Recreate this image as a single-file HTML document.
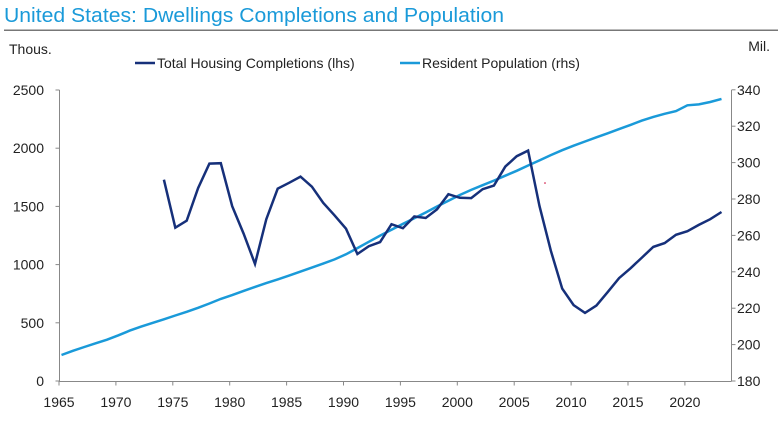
<!DOCTYPE html>
<html><head><meta charset="utf-8"><style>
body{margin:0;background:#fff;width:778px;height:423px;overflow:hidden;font-family:"Liberation Sans",Arial,sans-serif}
svg text{font-family:"Liberation Sans",Arial,sans-serif}
</style></head><body>
<svg id="c" width="778" height="423" xmlns="http://www.w3.org/2000/svg">
<text x="4" y="22" font-size="20" fill="#1a9ad9" textLength="500" lengthAdjust="spacingAndGlyphs">United States: Dwellings Completions and Population</text>
<rect x="4" y="29.5" width="774" height="1.5" fill="#777"/>
<text x="9" y="54" font-size="14" fill="#222">Thous.</text>
<text x="770" y="51" font-size="14" fill="#222" text-anchor="end">Mil.</text>
<line x1="135" y1="63" x2="155" y2="63" stroke="#16307a" stroke-width="2.5"/>
<text x="157" y="68" font-size="14" fill="#222">Total Housing Completions (lhs)</text>
<line x1="400" y1="63" x2="420" y2="63" stroke="#1a9ad9" stroke-width="2.5"/>
<text x="422" y="68" font-size="14" fill="#222">Resident Population (rhs)</text>
<g id="ax" stroke="#888" stroke-width="1" fill="none"></g>
<g id="lab" font-size="14" fill="#222"></g>
<polyline id="pop" fill="none" stroke="#1a9ad9" stroke-width="2.5"/>
<polyline id="hc" fill="none" stroke="#16307a" stroke-width="2.5"/>
<circle cx="545" cy="183" r="0.8" fill="#c03"/>
</svg>
<script>
var NS="http://www.w3.org/2000/svg";
function el(p,t,a,txt){var e=document.createElementNS(NS,t);for(var k in a)e.setAttribute(k,a[k]);if(txt!==undefined)e.textContent=txt;p.appendChild(e);return e;}
var ax=document.getElementById('ax'),lab=document.getElementById('lab');
var L=59.5,R=731.5,B=381.5,T=90;
el(ax,'line',{x1:L,y1:T,x2:L,y2:B});el(ax,'line',{x1:R,y1:T,x2:R,y2:B});el(ax,'line',{x1:L,y1:B,x2:R,y2:B});
function X(y){return 61.5+11.38*(y-1965);}
for(var v=0;v<=2500;v+=500){var y=381-v*0.1164;el(ax,'line',{x1:L-4,y1:y,x2:L,y2:y});el(lab,'text',{x:44,y:y+5,'text-anchor':'end'},v);}
for(var p=180;p<=340;p+=20){var y=381-(p-180)*1.82;el(ax,'line',{x1:R,y1:y,x2:R+4,y2:y});el(lab,'text',{x:737,y:y+5},p);}
for(var yr=1965;yr<=2020;yr+=5){var x=59+11.38*(yr-1965);el(ax,'line',{x1:x,y1:B,x2:x,y2:B+4});el(lab,'text',{x:x,y:407,'text-anchor':'middle'},yr);}
var hc=[1729,1317,1377,1657,1868,1871,1502,1266,1006,1390,1652,1703,1756,1669,1530,1423,1308,1091,1158,1193,1347,1313,1413,1400,1474,1605,1574,1571,1648,1679,1842,1931,1979,1503,1120,794,652,585,649,764,884,968,1060,1152,1185,1256,1287,1341,1390,1452];
var pop=[194.3,196.6,198.7,200.7,202.7,205.1,207.7,209.9,211.9,213.9,216.0,218.0,220.2,222.6,225.1,227.2,229.5,231.7,233.8,235.8,237.9,240.1,242.3,244.5,246.8,249.6,253.0,256.5,259.9,263.1,266.3,269.4,272.6,275.9,279.0,282.2,285.0,287.6,290.1,292.8,295.5,298.4,301.2,304.1,306.8,309.3,311.6,313.9,316.1,318.4,320.7,323.1,325.1,326.8,328.3,331.5,332.0,333.3,335.0];
document.getElementById('hc').setAttribute('points',hc.map(function(v,i){return X(1974+i).toFixed(1)+','+(381-v*0.1164).toFixed(1);}).join(' '));
document.getElementById('pop').setAttribute('points',pop.map(function(v,i){return X(1965+i).toFixed(1)+','+(381-(v-180)*1.82).toFixed(1);}).join(' '));
</script>
</body></html>
